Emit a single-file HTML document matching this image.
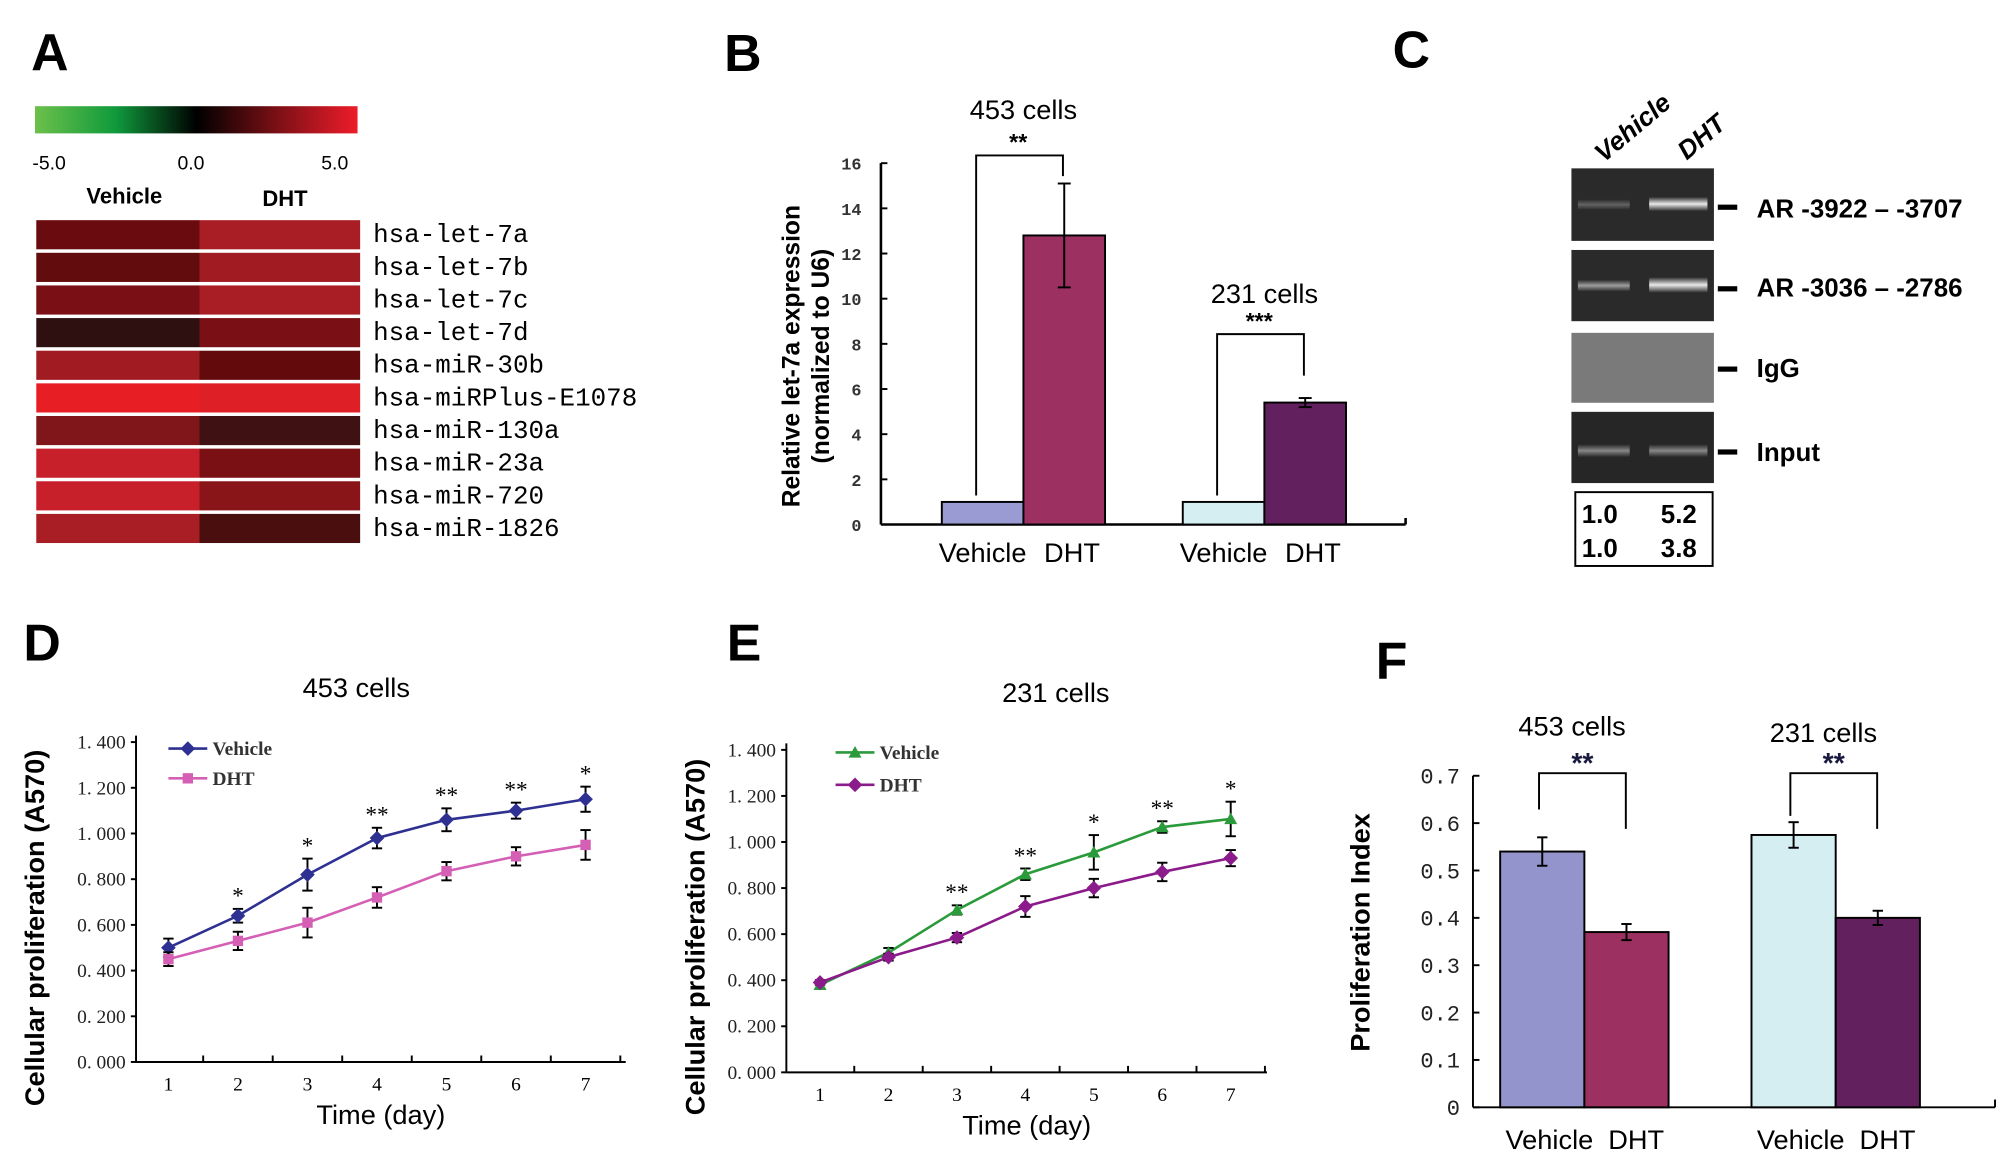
<!DOCTYPE html>
<html><head><meta charset="utf-8"><style>
html,body{margin:0;padding:0;background:#fff;}
svg{display:block;}
text{font-family:"Liberation Sans",sans-serif;}
.mono{font-family:"Liberation Mono",monospace;}
.serif{font-family:"Liberation Serif",serif;}
</style></head><body>
<svg id="fig" width="2008" height="1163" viewBox="0 0 1550 898" preserveAspectRatio="none" xmlns="http://www.w3.org/2000/svg">
<defs>
<linearGradient id="cbar" x1="0" x2="1" y1="0" y2="0">
<stop offset="0" stop-color="#6cc04a"/><stop offset="0.25" stop-color="#0f9a3c"/><stop offset="0.5" stop-color="#000"/><stop offset="0.75" stop-color="#7a1015"/><stop offset="1" stop-color="#ee1c2a"/>
</linearGradient>
<linearGradient id="band" x1="0" x2="0" y1="0" y2="1"><stop offset="0" stop-color="#fff" stop-opacity="0"/><stop offset="0.5" stop-color="#fff" stop-opacity="0.9"/><stop offset="1" stop-color="#fff" stop-opacity="0"/></linearGradient>
</defs>
<g font-weight="bold" font-size="40">
<text x="24" y="54">A</text>
<text x="559" y="55">B</text>
<text x="1075" y="52">C</text>
<text x="18" y="510">D</text>
<text x="561" y="510">E</text>
<text x="1062" y="524">F</text>
</g>
<!-- Panel A -->
<rect x="27" y="82" width="249" height="21" fill="url(#cbar)"/>
<g class="mono" font-size="15">
<text x="25" y="131">-5.0</text><text x="137" y="131">0.0</text><text x="248" y="131">5.0</text>
</g>
<text x="96" y="157" font-size="17" font-weight="bold" text-anchor="middle">Vehicle</text>
<text x="220" y="159" font-size="17" font-weight="bold" text-anchor="middle">DHT</text>
<g id="heat"></g>
<!-- Panel B -->
<g id="pb"></g>
<!-- Panel C -->
<g>
<text transform="translate(1238,126) rotate(-40)" font-size="20" font-weight="bold" font-style="italic">Vehicle</text>
<text transform="translate(1302,124) rotate(-40)" font-size="20" font-weight="bold" font-style="italic">DHT</text>
<rect x="1213" y="130" width="110" height="56" fill="#2a2a2a"/>
<rect x="1218" y="154" width="40" height="8" fill="url(#band)" opacity="0.3"/>
<rect x="1273" y="152" width="45" height="11" fill="url(#band)"/>
<rect x="1213" y="193" width="110" height="55" fill="#2a2a2a"/>
<rect x="1218" y="216" width="40" height="9" fill="url(#band)" opacity="0.6"/>
<rect x="1273" y="214" width="45" height="12" fill="url(#band)"/>
<rect x="1213" y="257" width="110" height="54" fill="#7a7a7a"/>
<rect x="1213" y="318" width="110" height="55" fill="#262626"/>
<rect x="1218" y="343" width="40" height="10" fill="url(#band)" opacity="0.5"/>
<rect x="1273" y="343" width="45" height="10" fill="url(#band)" opacity="0.5"/>
<g fill="#000"><rect x="1326" y="158" width="15" height="4"/><rect x="1326" y="221" width="15" height="4"/><rect x="1326" y="283" width="15" height="4"/><rect x="1326" y="347" width="15" height="4"/></g>
<g font-size="20" font-weight="bold">
<text x="1356" y="168">AR -3922 – -3707</text>
<text x="1356" y="229">AR -3036 – -2786</text>
<text x="1356" y="291">IgG</text>
<text x="1356" y="356">Input</text>
</g>
<rect x="1216" y="380" width="106" height="57" fill="none" stroke="#000" stroke-width="1.5"/>
<g font-size="20" font-weight="bold">
<text x="1221" y="404">1.0</text><text x="1282" y="404">5.2</text>
<text x="1221" y="430">1.0</text><text x="1282" y="430">3.8</text>
</g>
</g>
<g id="pd"></g>
<g id="pe"></g>
<g id="pf"></g>
</svg>
<script>
// ---- Heatmap data ----
const heatGenes = ["hsa-let-7a","hsa-let-7b","hsa-let-7c","hsa-let-7d","hsa-miR-30b","hsa-miRPlus-E1078","hsa-miR-130a","hsa-miR-23a","hsa-miR-720","hsa-miR-1826"];
const heatVehicle = ["#6a0c0f","#620c0e","#7a1015","#2e1010","#a01c22","#e81e25","#80161a","#c8202a","#c8202a","#a81e24"];
const heatDHT = ["#a81e24","#a01c22","#a81e24","#7a1015","#620a0c","#de1f26","#3f1112","#7a1014","#8a1518","#4a0e0e"];
// ---- Panel B data ----
const bGroups = ["453 cells","231 cells"];
const bVehicle = [1.0, 1.0];
const bDHT = [12.8, 5.4];
const bDHTErr = [2.3, 0.2];
const bStars = ["**","***"];
const bTicks = [0,2,4,6,8,10,12,14,16];
// ---- Panel D data ----
const days = [1,2,3,4,5,6,7];
const dVehicle = [0.50,0.64,0.82,0.98,1.06,1.10,1.15];
const dVehicleErr = [0.04,0.03,0.07,0.045,0.05,0.035,0.055];
const dDHT = [0.45,0.53,0.61,0.72,0.835,0.90,0.95];
const dDHTErr = [0.03,0.04,0.065,0.045,0.04,0.04,0.065];
const dStars = ["","*","*","**","**","**","*"];
// ---- Panel E data ----
const eVehicle = [0.38,0.52,0.705,0.86,0.955,1.065,1.10];
const eVehicleErr = [0.015,0.02,0.02,0.025,0.075,0.025,0.075];
const eDHT = [0.39,0.50,0.585,0.72,0.80,0.87,0.93];
const eDHTErr = [0.01,0.015,0.02,0.045,0.04,0.04,0.035];
const eStars = ["","","**","**","*","**","*"];
const lineTicks = ["0.000","0.200","0.400","0.600","0.800","1.000","1.200","1.400"];
// ---- Panel F data ----
const fVehicle = [0.54, 0.575];
const fVehicleErr = [0.03, 0.027];
const fDHT = [0.37, 0.40];
const fDHTErr = [0.017, 0.015];
const fTicks = ["0","0.1","0.2","0.3","0.4","0.5","0.6","0.7"];

const NS="http://www.w3.org/2000/svg";
function mk(p,tag,attrs,txt){const e=document.createElementNS(NS,tag);for(const k in attrs)e.setAttribute(k,attrs[k]);if(txt!==undefined)e.textContent=txt;p.appendChild(e);return e;}

// Heatmap
(function(){
 const g=document.getElementById('heat');
 const rowY=i=>170+i*25.2;
 heatGenes.forEach((name,i)=>{
  const y=rowY(i);
  const a=mk(g,'rect',{x:28,y:y,width:126,height:22.5,fill:heatVehicle[i]});
  
  
  const b=mk(g,'rect',{x:154,y:y,width:124,height:22.5,fill:heatDHT[i]});
  
  
  const t=mk(g,'text',{x:288,y:y+17,'font-size':20,class:'mono'},name);
  
  
 });
})();

function errBar(g,x,y1,y2,w){
 mk(g,'line',{x1:x,x2:x,y1:y1,y2:y2,stroke:'#000','stroke-width':1.5});
 mk(g,'line',{x1:x-w,x2:x+w,y1:y1,y2:y1,stroke:'#000','stroke-width':1.5});
 mk(g,'line',{x1:x-w,x2:x+w,y1:y2,y2:y2,stroke:'#000','stroke-width':1.5});
}

// Panel B
(function(){
 const g=document.getElementById('pb');
 const x0=680,y0=405,yT=126,ymax=16;
 const Y=v=>y0-(v/ymax)*(y0-yT);
 mk(g,'line',{x1:x0,x2:x0,y1:yT,y2:y0,stroke:'#000','stroke-width':2});
 mk(g,'line',{x1:x0,x2:1085,y1:y0,y2:y0,stroke:'#000','stroke-width':2});
 mk(g,'line',{x1:1085,x2:1085,y1:y0,y2:y0-5,stroke:'#000','stroke-width':2});
 bTicks.forEach(t=>{mk(g,'line',{x1:x0,x2:x0+5,y1:Y(t),y2:Y(t),stroke:'#000','stroke-width':1.5});
  const tx=mk(g,'text',{x:665,y:Y(t)+5,'font-size':13,'text-anchor':'end',class:'mono','font-weight':'bold',fill:'#333'},t);
  
  });
 const yl=mk(g,'text',{transform:'translate(617,275) rotate(-90)','text-anchor':'middle','font-size':19,'font-weight':'bold'},'Relative let-7a expression');
 
 
 const yl2=mk(g,'text',{transform:'translate(640,275) rotate(-90)','text-anchor':'middle','font-size':19,'font-weight':'bold'},'(normalized to U6)');
 
 
 const gx=[727,913],bw=63,colV=['#9b9bd4','#d4eef2'],colD=['#9c3060','#62205e'];
 bGroups.forEach((name,i)=>{
  const xv=gx[i],xd=gx[i]+bw;
  const r1=mk(g,'rect',{x:xv,y:Y(bVehicle[i]),width:bw,height:y0-Y(bVehicle[i]),fill:colV[i],stroke:'#000','stroke-width':1.5});
  
  
  const r2=mk(g,'rect',{x:xd,y:Y(bDHT[i]),width:bw,height:y0-Y(bDHT[i]),fill:colD[i],stroke:'#000','stroke-width':1.5});
  
  
  errBar(g,xd+bw/2,Y(bDHT[i]+bDHTErr[i]),Y(bDHT[i]-bDHTErr[i]),5);
  const cv=xv+bw/2,cd=xd+bw/2;
  const top=i===0?120:258;
  mk(g,'polyline',{points:`${cv-5},${Y(bVehicle[i])-5} ${cv-5},${top} ${cd-1},${top} ${cd-1},${i===0?136:290}`,fill:'none',stroke:'#000','stroke-width':1.5});
  mk(g,'text',{x:(cv+cd)/2-4,y:top-4,'text-anchor':'middle','font-size':18,'font-weight':'bold'},bStars[i]);
  const tt=mk(g,'text',{x:(cv+cd)/2,y:i===0?92:234,'text-anchor':'middle','font-size':21},name);
  
  
  mk(g,'text',{x:cv,y:434,'text-anchor':'middle','font-size':21},'Vehicle');
  mk(g,'text',{x:cd+6,y:434,'text-anchor':'middle','font-size':21},'DHT');
 });
})();

// Line charts
function lineChart(id,o){
 const g=document.getElementById(id);
 const Y=v=>o.y0-(v/1.4)*(o.y0-o.yT);
 const X=d=>o.x1+(d-1)*(o.x7-o.x1)/6;
 mk(g,'line',{x1:o.ax,x2:o.ax,y1:o.yT-5,y2:o.y0,stroke:'#000','stroke-width':1.5});
 mk(g,'line',{x1:o.ax,x2:o.xe,y1:o.y0,y2:o.y0,stroke:'#000','stroke-width':1.5});
 lineTicks.forEach(t=>{const v=parseFloat(t);
  mk(g,'line',{x1:o.ax-4,x2:o.ax,y1:Y(v),y2:Y(v),stroke:'#000','stroke-width':1.5});
  const tx=mk(g,'text',{x:o.ax-8,y:Y(v)+5,'text-anchor':'end','font-size':15,class:'serif',fill:'#222'},t.replace('.','. '));
  
  });
 const step=(o.x7-o.x1)/6;
 for(let k=0;k<=7;k++){const xx=o.x1-step/2+k*step; if(xx>o.ax&&xx<=o.xe) mk(g,'line',{x1:xx,x2:xx,y1:o.y0,y2:o.y0-5,stroke:'#000','stroke-width':1.5});}
 days.forEach(d=>{const tx=mk(g,'text',{x:X(d),y:o.y0+22,'text-anchor':'middle','font-size':15,class:'serif'},d);
  
  });
 const tt=mk(g,'text',{x:o.tx,y:o.ty,'text-anchor':'middle','font-size':21},o.title);
 
 
 const xt=mk(g,'text',{x:(o.ax+o.xe)/2,y:o.y0+48,'text-anchor':'middle','font-size':21},'Time (day)');
 
 
 const yt=mk(g,'text',{transform:`translate(${o.ylx},${(o.yT+o.y0)/2+20}) rotate(-90)`,'text-anchor':'middle','font-size':21,'font-weight':'bold'},'Cellular proliferation (A570)');
 
 
 o.series.forEach((s,si)=>{
  const pts=days.map((d,i)=>`${X(d)},${Y(s.v[i])}`).join(' ');
  const pl=mk(g,'polyline',{points:pts,fill:'none',stroke:s.c,'stroke-width':2});
  
  
  days.forEach((d,i)=>{
   errBar(g,X(d),Y(s.v[i]+s.e[i]),Y(s.v[i]-s.e[i]),4);
   let m;
   if(s.m==='d') m=mk(g,'rect',{x:X(d)-4,y:Y(s.v[i])-4,width:8,height:8,fill:s.c,transform:`rotate(45 ${X(d)} ${Y(s.v[i])})`});
   else if(s.m==='s') m=mk(g,'rect',{x:X(d)-4,y:Y(s.v[i])-4,width:8,height:8,fill:s.c});
   else m=mk(g,'polygon',{points:`${X(d)},${Y(s.v[i])-5} ${X(d)-5},${Y(s.v[i])+4} ${X(d)+5},${Y(s.v[i])+4}`,fill:s.c});
   
   
  });
  const ly=o.legY+si*o.legDy;
  mk(g,'line',{x1:o.legX,x2:o.legX+30,y1:ly,y2:ly,stroke:s.c,'stroke-width':2});
  const lm=s.m==='d'?mk(g,'rect',{x:o.legX+11,y:ly-4,width:8,height:8,fill:s.c,transform:`rotate(45 ${o.legX+15} ${ly})`}):s.m==='s'?mk(g,'rect',{x:o.legX+11,y:ly-4,width:8,height:8,fill:s.c}):mk(g,'polygon',{points:`${o.legX+15},${ly-5} ${o.legX+10},${ly+4} ${o.legX+20},${ly+4}`,fill:s.c});
  
  
  const lt=mk(g,'text',{x:o.legX+34,y:ly+5,'font-size':15,class:'serif','font-weight':'bold',fill:'#333'},s.name);
  
  
 });
 days.forEach((d,i)=>{ if(o.stars[i]){const top=Math.max(...o.series.map(s=>s.v[i]+s.e[i]));
  mk(g,'text',{x:X(d),y:Y(top)-4,'text-anchor':'middle','font-size':18,class:'serif'},o.stars[i]);}});
}
lineChart('pd',{ax:105,xe:483,y0:820,yT:573,x1:130,x7:452,title:'453 cells',tx:275,ty:538,ylx:34,legX:130,legY:578,legDy:23,stars:dStars,
 series:[{name:'Vehicle',v:dVehicle,e:dVehicleErr,c:'#2e3192',m:'d'},{name:'DHT',v:dDHT,e:dDHTErr,c:'#d45fb4',m:'s'}]});
lineChart('pe',{ax:607,xe:978,y0:828,yT:579,x1:633,x7:950,title:'231 cells',tx:815,ty:542,ylx:544,legX:645,legY:581,legDy:25,stars:eStars,
 series:[{name:'Vehicle',v:eVehicle,e:eVehicleErr,c:'#2a9a3a',m:'t'},{name:'DHT',v:eDHT,e:eDHTErr,c:'#8b1a8a',m:'d'}]});

// Panel F
(function(){
 const g=document.getElementById('pf');
 const x0=1137,y0=855,yT=599;
 const Y=v=>y0-(v/0.7)*(y0-yT);
 mk(g,'line',{x1:x0,x2:x0,y1:yT,y2:y0,stroke:'#000','stroke-width':1.5});
 mk(g,'line',{x1:x0,x2:1540,y1:y0,y2:y0,stroke:'#000','stroke-width':1.5});
 mk(g,'line',{x1:1540,x2:1540,y1:y0,y2:y0-6,stroke:'#000','stroke-width':1.5});
 fTicks.forEach(t=>{const v=parseFloat(t);
  mk(g,'line',{x1:x0,x2:x0+5,y1:Y(v),y2:Y(v),stroke:'#000','stroke-width':1.5});
  const tx=mk(g,'text',{x:1127,y:Y(v)+6,'text-anchor':'end','font-size':17,class:'mono',fill:'#222'},t);
  
  });
 const yt=mk(g,'text',{transform:'translate(1057,720) rotate(-90)','text-anchor':'middle','font-size':21,'font-weight':'bold'},'Proliferation Index');
 
 
 const gx=[1158,1352],bw=65,colV=['#9494cc','#d4eef2'],colD=['#9c3060','#62205e'],titles=['453 cells','231 cells'],ty=[568,573];
 [0,1].forEach(i=>{
  const xv=gx[i],xd=gx[i]+bw;
  const r1=mk(g,'rect',{x:xv,y:Y(fVehicle[i]),width:bw,height:y0-Y(fVehicle[i]),fill:colV[i],stroke:'#000','stroke-width':1.5});
  
  
  const r2=mk(g,'rect',{x:xd,y:Y(fDHT[i]),width:bw,height:y0-Y(fDHT[i]),fill:colD[i],stroke:'#000','stroke-width':1.5});
  
  
  errBar(g,xv+bw/2,Y(fVehicle[i]+fVehicleErr[i]),Y(fVehicle[i]-fVehicleErr[i]),4);
  errBar(g,xd+bw/2,Y(fDHT[i]+fDHTErr[i]),Y(fDHT[i]-fDHTErr[i]),4);
  const cv=xv+30,cd=xd+32;
  mk(g,'polyline',{points:`${cv},${i?630:625} ${cv},597 ${cd},597 ${cd},640`,fill:'none',stroke:'#000','stroke-width':1.5});
  mk(g,'text',{x:(cv+cd)/2,y:597,'text-anchor':'middle','font-size':22,'font-weight':'bold',fill:'#1a1a40'},'**');
  const tt=mk(g,'text',{x:(cv+cd)/2-8,y:ty[i],'text-anchor':'middle','font-size':21},titles[i]);
  
  
  mk(g,'text',{x:xv+38,y:887,'text-anchor':'middle','font-size':21},'Vehicle');
  mk(g,'text',{x:xd+40,y:887,'text-anchor':'middle','font-size':21},'DHT');
 });
})();
</script>
</body></html>
